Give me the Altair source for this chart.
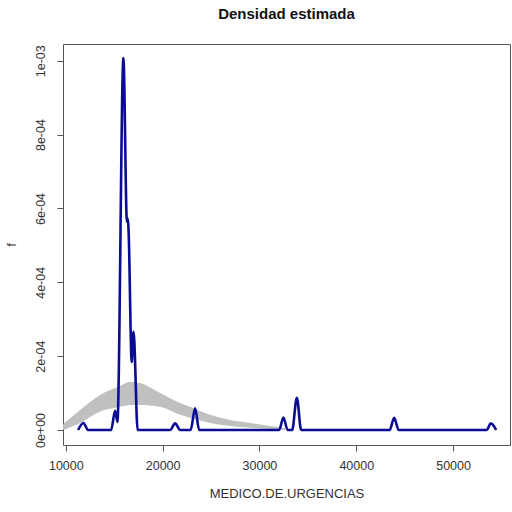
import altair as alt
import pandas as pd

# Estimated density of MEDICO.DE.URGENCIAS (blue) and the bootstrap band (gray)
dens_x = [11271, 11818, 12304, 14680, 15093, 15331, 15950, 16312, 16415, 16488,
          16808, 16983, 17056, 17417, 20775, 21291, 21808, 22893, 23357, 23771,
          32035, 32479, 32913, 33378, 33864, 34308, 43450, 43915, 44380, 53471,
          53905, 54452]
dens_y = [0.0, 1.9e-5, 0.0, 0.0, 5.2e-5, 2.2e-5, 1.007e-3, 5.64e-4, 5.72e-4, 5.37e-4,
          1.84e-4, 2.66e-4, 2.49e-4, 0.0, 0.0, 1.8e-5, 0.0, 0.0, 5.9e-5, 0.0,
          0.0, 3.4e-5, 0.0, 0.0, 8.75e-5, 0.0, 0.0, 3.3e-5, 0.0, 0.0,
          1.8e-5, 0.0]

band_x = [9721, 11477, 13543, 15610, 16643, 17676, 19742, 21808, 22841, 24907,
          26973, 29039, 31105, 32655]
band_hi = [1.6e-5, 5.4e-5, 9.5e-5, 1.19e-4, 1.31e-4, 1.27e-4, 1.0e-4, 7.3e-5, 6.3e-5,
           4.1e-5, 2.7e-5, 1.9e-5, 1.1e-5, 0.5e-5]
band_lo = [0.0, 1.9e-5, 5.0e-5, 6.3e-5, 6.8e-5, 6.8e-5, 6.3e-5, 4.1e-5, 3.3e-5,
           1.9e-5, 1.1e-5, 0.6e-5, 0.3e-5, 0.0]

x_ticks = [10000, 20000, 30000, 40000, 50000]
y_ticks = [0.0, 0.0002, 0.0004, 0.0006, 0.0008, 0.001]

dens = pd.DataFrame({"x": dens_x, "f": dens_y})
band = pd.DataFrame({"x": band_x, "hi": band_hi, "lo": band_lo})

x_scale = alt.Scale(domain=[9710, 55880], nice=False, zero=False)
y_scale = alt.Scale(domain=[-4.06e-5, 1.0453e-3], nice=False, zero=False)

x_axis = alt.Axis(values=x_ticks, title="MEDICO.DE.URGENCIAS", format="d",
                  labelPadding=8, titlePadding=16)
y_axis = alt.Axis(values=y_ticks, title="f", labelAngle=270, labelAlign="center",
                  labelBaseline="bottom", labelPadding=10, titlePadding=16,
                  labelExpr="datum.value == 0 ? '0e+00' : replace(format(datum.value, '.0e'), 'e-', 'e-0')")

band_layer = alt.Chart(band).mark_area(color="#c0c0c0", opacity=1, interpolate="monotone").encode(
    x=alt.X("x:Q", scale=x_scale, axis=x_axis),
    y=alt.Y("hi:Q", scale=y_scale, axis=y_axis),
    y2="lo:Q",
)

line_layer = alt.Chart(dens).mark_line(color="#0b0b94", strokeWidth=2.6, interpolate="monotone").encode(
    x=alt.X("x:Q", scale=x_scale),
    y=alt.Y("f:Q", scale=y_scale),
)

chart = alt.layer(band_layer, line_layer).properties(
    width=447,
    height=401,
    title=alt.TitleParams("Densidad estimada", fontSize=15, font="Liberation Sans",
                          fontWeight="bold", color="#111", offset=22, anchor="middle"),
    autosize=alt.AutoSizeParams(type="none"),
    padding={"left": 63, "top": 44, "right": 2, "bottom": 67},
).configure_view(
    stroke="#555", strokeWidth=1
).configure_axis(
    domain=False, grid=False, tickColor="#555", tickSize=6, tickWidth=1,
    labelFont="Liberation Sans", labelFontSize=12.5, labelColor="#333",
    titleFont="Liberation Sans", titleFontSize=13, titleFontWeight="normal", titleColor="#333",
)

chart.save("out.html", embed_options={"renderer": "svg", "actions": False})
